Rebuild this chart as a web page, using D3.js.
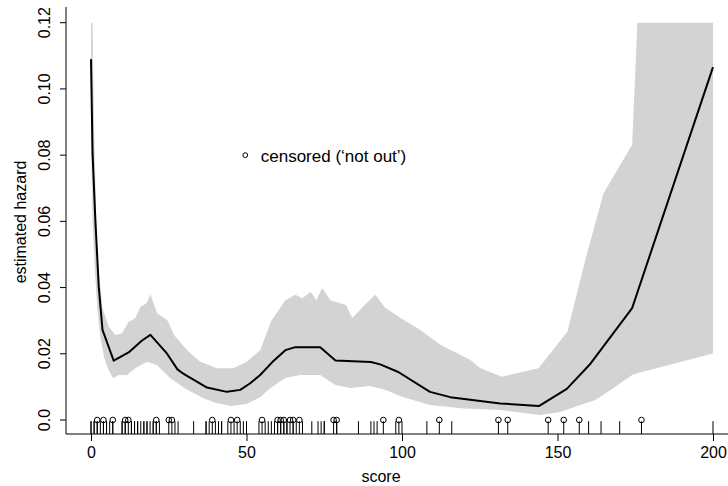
<!DOCTYPE html>
<html>
<head>
<meta charset="utf-8">
<script src="https://cdn.jsdelivr.net/npm/d3@7"></script>
<style>
  html, body { margin: 0; padding: 0; background: #fff; }
  svg { display: block; font-family: "Liberation Sans", Arial, Helvetica, sans-serif; }
</style>
</head>
<body>
<div id="chart"></div>
<script>
(function () {
  'use strict';

  // data
  var lineScore  = [0, 0.5, 1.4, 2.5, 3.7, 7.3, 12.1, 16.4, 19.1, 24.4, 27.8, 29.8, 37.3, 43.7, 48, 51.2, 54.4,
                    58.3, 62.5, 65.7, 73.7, 78.6, 90, 93, 98.8, 109, 115.5, 131.6, 144, 153, 160.6, 174, 200];
  var lineHazard = [0.109, 0.0806, 0.0604, 0.0402, 0.0272, 0.0179, 0.0204, 0.0240, 0.0257, 0.0201, 0.0153, 0.0139,
                    0.0098, 0.0085, 0.0091, 0.0111, 0.0136, 0.0175, 0.0211, 0.0220, 0.0220, 0.0180, 0.0175, 0.0168,
                    0.0145, 0.0085, 0.0069, 0.0050, 0.0042, 0.0094, 0.0170, 0.0338, 0.1066];

  var upperScore = [0, 0.5, 0.64, 1.16, 1.93, 3.6, 5.7, 7.8, 10, 12.1, 14.2, 15.9, 17.8, 19.1, 21.3, 24.5, 26.7,
                    30.9, 35.1, 40.5, 45.8, 50.1, 54.4, 58, 62.5, 65.7, 68, 70.6, 72.5, 74.3, 77, 82, 84, 88,
                    91.4, 94.5, 99.5, 105.9, 112.3, 122, 125.2, 132.2, 143.9, 153.2, 159.2, 164.8, 174, 175.7, 200];
  var upperVal   = [0.12, 0.12, 0.1107, 0.0805, 0.0503, 0.0342, 0.0282, 0.0257, 0.0262, 0.0297, 0.0307, 0.0342,
                    0.0352, 0.0380, 0.0322, 0.0302, 0.0257, 0.0211, 0.0176, 0.0156, 0.0156, 0.0176, 0.0211, 0.0300,
                    0.0362, 0.0378, 0.0368, 0.0387, 0.0362, 0.0399, 0.0362, 0.0347, 0.0308, 0.0347, 0.0378, 0.0340,
                    0.0308, 0.0272, 0.0227, 0.0181, 0.0156, 0.0131, 0.0156, 0.0267, 0.0493, 0.0685, 0.0831, 0.12, 0.12];

  var lowerScore = [0, 0.5, 1.2, 2, 3, 4.2, 5.5, 7.1, 8.9, 11.6, 14.2, 18, 21.2, 25.5, 30.9, 36.2, 40, 45, 50,
                    54.4, 57.7, 62.5, 67.3, 73.7, 78.6, 83.4, 89.7, 94.6, 99.5, 109, 120, 131.6, 144.5, 150.9,
                    157.3, 162, 164.8, 174, 175.6, 200];
  var lowerVal   = [0.085, 0.060, 0.046, 0.034, 0.025, 0.019, 0.0155, 0.0126, 0.0136, 0.0136, 0.0156, 0.0176,
                    0.0166, 0.0126, 0.0091, 0.0066, 0.0052, 0.0042, 0.0048, 0.0069, 0.0097, 0.0127, 0.0136, 0.0136,
                    0.0106, 0.0097, 0.0103, 0.0091, 0.0072, 0.0045, 0.0035, 0.0030, 0.0015, 0.0024, 0.0045, 0.0060,
                    0.0076, 0.0136, 0.0141, 0.0201];

  var censoredScores = [2, 4, 7, 11, 12, 21, 25, 26, 39, 45, 47, 55, 60, 61, 62, 64, 65, 67, 78, 79, 94, 99,
                        112, 131, 134, 147, 152, 157, 177];
  var outScores = [0, 0, 1, 1, 2, 3, 4, 5, 5, 6, 7, 10, 10, 11, 13, 13, 14, 14, 15, 15, 16, 17, 17, 18, 18, 19,
                   20, 20, 21, 22, 27, 28, 33, 37, 37, 38, 40, 41, 42, 42, 44, 46, 48, 49, 50, 54, 56, 57, 58, 59,
                   60, 61, 62, 63, 63, 65, 66, 68, 71, 73, 74, 75, 75, 79, 86, 90, 91, 92, 98, 100, 108, 116, 160,
                   164, 170, 200];

  var xTicks = [0, 50, 100, 150, 200];
  var yTicks = [0, 0.02, 0.04, 0.06, 0.08, 0.10, 0.12];
  var legendLabel = 'censored (\u2018not out\u2019)';

  var w = 728, h = 486,
      left = 66, top = 7, bottom = 434, right = 736,
      fs = 16;

  var svg = d3.select('#chart').append('svg')
    .attr('width', w)
    .attr('height', h);

  var x = d3.scaleLinear().domain([0, 200]).range([91, 713]);
  var y = d3.scaleLinear().domain([0, 0.12]).range([420, 22.7]);

  svg.append('clipPath').attr('id', 'plotclip')
    .append('rect')
    .attr('x', left).attr('y', top)
    .attr('width', right - left).attr('height', bottom - top);

  var plot = svg.append('g').attr('clip-path', 'url(#plotclip)');

  // confidence band
  var upper = upperScore.map(function (s, i) { return [s, upperVal[i]]; });
  var lower = lowerScore.map(function (s, i) { return [s, lowerVal[i]]; });
  var poly = upper.concat(lower.slice().reverse());
  var pathGen = d3.line()
    .x(function (d) { return x(d[0]); })
    .y(function (d) { return y(d[1]); });

  plot.append('path')
    .attr('d', pathGen(poly) + 'Z')
    .attr('fill', '#d3d3d3')
    .attr('stroke', 'none');

  // hazard estimate
  var est = lineScore.map(function (s, i) { return [s, lineHazard[i]]; });
  plot.append('path')
    .attr('d', pathGen(est))
    .attr('fill', 'none')
    .attr('stroke', '#000')
    .attr('stroke-width', 2)
    .attr('stroke-linejoin', 'round');

  // rug
  var rugLen = 12.8;
  var allScores = outScores.concat(censoredScores);
  plot.selectAll('.rug')
    .data(allScores)
    .enter()
    .append('line')
    .attr('class', 'rug')
    .attr('x1', function (d) { return x(d); })
    .attr('x2', function (d) { return x(d); })
    .attr('y1', bottom)
    .attr('y2', bottom - rugLen)
    .attr('stroke', '#000')
    .attr('stroke-width', 1);

  plot.selectAll('.cens')
    .data(censoredScores)
    .enter()
    .append('circle')
    .attr('class', 'cens')
    .attr('cx', function (d) { return x(d); })
    .attr('cy', y(0))
    .attr('r', 2.8)
    .attr('fill', 'none')
    .attr('stroke', '#000')
    .attr('stroke-width', 1);

  // L-shaped box
  svg.append('path')
    .attr('d', 'M' + left + ',' + top + 'V' + bottom + 'H' + right)
    .attr('fill', 'none')
    .attr('stroke', '#000')
    .attr('stroke-width', 1);

  // axes
  var xAxis = d3.axisBottom(x).tickValues(xTicks).tickSize(7).tickPadding(6)
    .tickFormat(d3.format('d'));
  var gx = svg.append('g')
    .attr('transform', 'translate(0,' + bottom + ')')
    .call(xAxis);
  gx.select('.domain').remove();
  gx.selectAll('text').attr('font-size', fs).attr('font-family', null).attr('fill', '#000');

  var yAxis = d3.axisLeft(y).tickValues(yTicks).tickSize(6)
    .tickFormat(function (d) { return d === 0 ? '0.0' : d3.format('.2f')(d); });
  var gy = svg.append('g')
    .attr('transform', 'translate(' + left + ',0)')
    .call(yAxis);
  gy.select('.domain').remove();
  gy.selectAll('.tick').attr('transform', 'translate(0,0)');
  gy.selectAll('.tick line')
    .attr('y1', function (d) { return y(d); })
    .attr('y2', function (d) { return y(d); });
  gy.selectAll('text')
    .attr('font-size', fs)
    .attr('font-family', null)
    .attr('fill', '#000')
    .attr('x', 0)
    .attr('y', -16)
    .attr('dy', 0)
    .attr('text-anchor', 'middle')
    .attr('transform', function (d) { return 'translate(0,' + y(d) + ') rotate(-90)'; });

  // axis titles
  svg.append('text')
    .attr('x', 381)
    .attr('y', 482)
    .attr('text-anchor', 'middle')
    .attr('font-size', fs)
    .text('score');

  svg.append('text')
    .attr('transform', 'translate(26,222) rotate(-90)')
    .attr('text-anchor', 'middle')
    .attr('font-size', fs)
    .text('estimated hazard');

  // legend
  svg.append('circle')
    .attr('cx', x(49.6))
    .attr('cy', y(0.08))
    .attr('r', 2.4)
    .attr('fill', 'none')
    .attr('stroke', '#000')
    .attr('stroke-width', 1);
  svg.append('text')
    .attr('x', x(49.6) + 15.5)
    .attr('y', y(0.08) + 6.5)
    .attr('font-size', 17)
    .text(legendLabel);
}());
</script>
</body>
</html>
